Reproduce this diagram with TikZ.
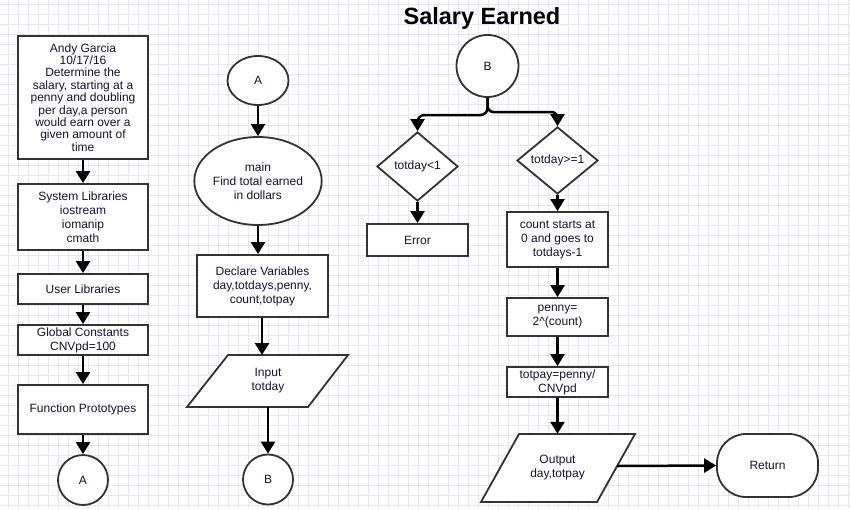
\documentclass[tikz,border=0pt]{standalone}
\usepackage{fontspec}
\setmainfont{Liberation Sans}
\usetikzlibrary{shapes.geometric,arrows.meta}
\definecolor{gridc}{RGB}{230,230,248}
\definecolor{edge}{RGB}{51,51,51}
\definecolor{txt}{RGB}{20,20,50}
\tikzset{
  base/.style={draw=edge, line width=1.8pt, fill=white, text=txt, align=center, inner sep=0pt, font=\fontsize{12}{14}\selectfont},
  procbox/.style={base, rectangle},
  termcirc/.style={base, circle},
  termell/.style={base, ellipse},
  decision/.style={base, diamond},
  textonly/.style={text=txt, align=center, inner sep=0pt, font=\fontsize{12}{14}\selectfont, rectangle},
  ioshape/.style={draw=edge, line width=1.8pt, fill=white, line join=miter},
  conn/.style={line width=2.5pt, -{Triangle[width=14pt,length=12pt]}},
}
\begin{document}
\begin{tikzpicture}[x=1pt,y=-1pt]
\useasboundingbox (0,0) rectangle (850,508);
\fill[white] (0,0) rectangle (850,508);
\foreach \x in {8,18,...,848} \draw[gridc, line width=1pt] (\x,0) -- (\x,508);
\foreach \y in {5,15,...,505} \draw[gridc, line width=1pt] (0,\y) -- (850,\y);

% title
\node[text=black, font=\fontsize{23.5}{26}\selectfont\bfseries, inner sep=0pt] (title) at (482,18) {Salary Earned};

% left column
\node[procbox, minimum width=130pt, minimum height=123pt, font=\fontsize{12}{12.4}\selectfont] (b1) at (83,97.5)
  {Andy Garcia\\10/17/16\\Determine the\\salary, starting at a\\penny and doubling\\per day,a person\\would earn over a\\given amount of\\time};
\node[procbox, minimum width=130pt, minimum height=66pt] (b2) at (83,217) {System Libraries\\iostream\\iomanip\\cmath};
\node[procbox, minimum width=130pt, minimum height=30pt] (b3) at (83,289) {User Libraries};
\node[procbox, minimum width=130pt, minimum height=30pt] (b4) at (83,340) {Global Constants\\CNVpd=100};
\node[procbox, minimum width=130pt, minimum height=49pt] (b5) at (83,409.5) {Function Prototypes};
\node[termcirc, minimum size=50pt] (cA1) at (83,480) {A};

% middle column
\node[termell, minimum width=61pt, minimum height=49pt] (cA2) at (258,80.5) {A};
\node[termell, minimum width=121pt, minimum height=88pt] (main) at (258,181) {main\\Find total earned\\in dollars};
\node[procbox, minimum width=131pt, minimum height=62pt] (decl) at (262.5,286) {Declare Variables\\day,totdays,penny,\\count,totpay};
\draw[ioshape] (228,355) -- (348,355) -- (308,407) -- (187,407) -- cycle;
\node[textonly, minimum width=80pt, minimum height=52pt] (inp) at (268,381) {Input\\totday};
\node[termcirc, minimum size=50pt] (cB1) at (268,479.5) {B};

% right column
\node[termcirc, minimum size=62pt] (cB2) at (487.5,66) {B};
\node[decision, minimum width=81pt, minimum height=69pt] (dl) at (417.5,166.5) {totday<1};
\node[procbox, minimum width=101pt, minimum height=32pt] (err) at (417.5,240) {Error};
\node[decision, minimum width=81pt, minimum height=67pt] (dr) at (557.5,160.5) {totday>=1};
\node[procbox, minimum width=101pt, minimum height=55pt] (cnt) at (557.5,239.5) {count starts at\\0 and goes to\\totdays-1};
\node[procbox, minimum width=101pt, minimum height=38pt] (pen) at (557.5,317) {penny=\\2\^{}(count)};
\node[procbox, minimum width=101pt, minimum height=30pt] (tot) at (557.5,382) {totpay=penny/\\CNVpd};
\draw[ioshape] (519,434) -- (635,434) -- (597,502) -- (481,502) -- cycle;
\node[textonly, minimum width=60pt, minimum height=68pt] (out) at (557.5,468) {Output\\day,totpay};
\coordinate (outR) at (617,466);
\node[base, rectangle, rounded corners=29pt, minimum width=101pt, minimum height=63pt] (ret) at (767.5,465.5) {Return};

% connectors
\draw[conn] (b1.south) -- (b2.north);
\draw[conn] (b2.south) -- (b3.north);
\draw[conn] (b3.south) -- (b4.north);
\draw[conn] (b4.south) -- (b5.north);
\draw[conn] (b5.south) -- (cA1.north);
\draw[conn] (cA2.south) -- (main.north);
\draw[conn] (main.south) -- (main.south |- decl.north);
\draw[conn] (decl.south -| 262,0) -- (262,355);
\draw[conn] (inp.south) -- (cB1.north);
\draw[conn, rounded corners=7pt] (cB2.south) -- (487.5,115) -| (dl.north);
\draw[conn, rounded corners=6pt] (cB2.south) -- (487.5,112) -| (dr.north);
\draw[conn] (dl.south) -- (err.north);
\draw[conn] (dr.south) -- (cnt.north);
\draw[conn] (cnt.south) -- (pen.north);
\draw[conn] (pen.south) -- (tot.north);
\draw[conn] (tot.south) -- (out.north);
\draw[conn] (outR) -- (ret.west);
\end{tikzpicture}
\end{document}
